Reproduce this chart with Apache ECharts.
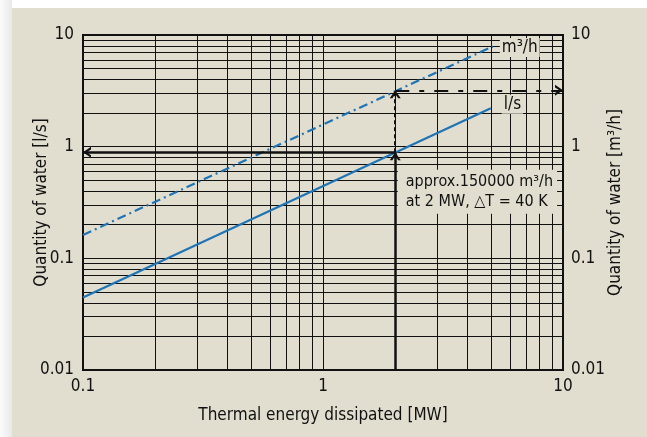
<!DOCTYPE html>
<html>
<head>
<meta charset="utf-8">
<script src="https://cdn.jsdelivr.net/npm/echarts@6/dist/echarts.min.js"></script>
<style>
html, body { margin: 0; padding: 0; background: #fff; }
#wrap { position: relative; width: 647px; height: 437px; overflow: hidden; }
#strip { position: absolute; left: 0; top: 0; width: 12px; height: 437px; background: linear-gradient(to right, #fbfbfb, #e9e9e9); }
#panel { position: absolute; left: 12px; top: 8px; right: 0; bottom: 0; background: #e1decf; }
#chart { position: absolute; left: 0; top: 0; width: 647px; height: 437px; }
</style>
</head>
<body>
<div id="wrap"><div id="strip"></div><div id="panel"></div><div id="chart"></div></div>
<script>
// axis decades and the minor steps inside each one
const xDecades = [0.1, 1]
const yDecades = [0.01, 0.1, 1]
const minorSteps = [2, 3, 4, 5, 6, 7, 8, 9]

// flow lines (MW -> quantity)
const powerLs = [0.1, 5.0]
const flowLs = [0.0445, 2.21]
const powerM3h = [0.1, 5.1]
const flowM3h = [0.162, 7.9]

// worked example
const examplePower = 2
const exampleLs = 0.89
const exampleM3h = 3.2

const BEIGE = '#e1decf'
const INK = '#111'
const BLUE = '#1f74b6'
const FONT = '"DejaVu Sans Condensed", "DejaVu Sans", sans-serif'

const chevron = 'path://M0,10 L5,0 L10,10 L7.6,10 L5,4.6 L2.4,10 Z'

const minorX = []
xDecades.forEach(d => minorSteps.forEach(m => minorX.push(d * m)))
const minorY = []
yDecades.forEach(d => minorSteps.forEach(m => minorY.push(d * m)))

const zip = (a, b) => a.map((v, i) => [v, b[i]])

const fmt = v => String(+v.toPrecision(3))

const tickLabel = { color: INK, fontSize: 17, fontFamily: FONT, margin: 9, formatter: fmt }
const nameStyle = { color: INK, fontSize: 17, fontFamily: FONT }

const myChart = echarts.init(document.getElementById('chart'))

const option = {
    animation: false,
    backgroundColor: 'transparent',
    grid: { left: 83, right: 84, top: 35, bottom: 67, show: true, borderColor: '#111', borderWidth: 2, backgroundColor: 'transparent' },
    xAxis: {
        type: 'log', logBase: 10, min: 0.1, max: 10,
        axisLine: { show: true, lineStyle: { color: '#111', width: 2 } },
        axisTick: { show: false },
        splitLine: { show: true, lineStyle: { color: '#111', width: 1 } },
        axisLabel: Object.assign({}, tickLabel, { margin: 8 }),
        name: 'Thermal energy dissipated [MW]',
        nameLocation: 'middle', nameGap: 37, nameMoveOverlap: false,
        nameTextStyle: nameStyle
    },
    yAxis: [{
        type: 'log', logBase: 10, min: 0.01, max: 10,
        axisLine: { show: true, lineStyle: { color: '#111', width: 2 } },
        axisTick: { show: false },
        splitLine: { show: true, lineStyle: { color: '#111', width: 1 } },
        axisLabel: tickLabel,
        name: 'Quantity of water [l/s]',
        nameLocation: 'middle', nameGap: 33, nameMoveOverlap: false,
        nameTextStyle: nameStyle
    }, {
        type: 'log', logBase: 10, min: 0.01, max: 10, position: 'right',
        axisLine: { show: true, lineStyle: { color: '#111', width: 2 } },
        axisTick: { show: false },
        splitLine: { show: false },
        axisLabel: Object.assign({}, tickLabel, { margin: 8 }),
        name: 'Quantity of water [m³/h]',
        nameLocation: 'middle', nameGap: 44, nameMoveOverlap: false,
        nameTextStyle: nameStyle
    }],
    series: [
        {
            // minor grid
            type: 'line', data: [[0.1, 0.01]], showSymbol: false, silent: true, z: 1,
            lineStyle: { opacity: 0 },
            markLine: {
                silent: true, z: 1, symbol: ['none', 'none'], label: { show: false },
                lineStyle: { color: '#111', width: 1, type: 'solid' },
                data: minorX.map(v => ({ xAxis: v })).concat(minorY.map(v => ({ yAxis: v })))
            }
        },
        {
            name: 'l/s', type: 'line', data: zip(powerLs, flowLs), showSymbol: false, z: 3,
            lineStyle: { color: BLUE, width: 2.2 },
            endLabel: {
                show: true, formatter: 'l/s', color: INK, fontSize: 17, fontFamily: FONT,
                backgroundColor: BEIGE, padding: [1, 2], offset: [3, -4]
            }
        },
        {
            name: 'm³/h', type: 'line', data: zip(powerM3h, flowM3h), showSymbol: false, z: 3,
            lineStyle: { color: BLUE, width: 2.2, type: [9, 4, 2, 4] },
            endLabel: {
                show: true, formatter: 'm³/h', color: INK, fontSize: 17, fontFamily: FONT,
                backgroundColor: BEIGE, padding: [1, 2], offset: [-1, 1]
            }
        },
        {
            // reading arrows
            type: 'line', data: [[0.1, 0.01]], showSymbol: false, silent: true, z: 4,
            lineStyle: { opacity: 0 },
            markLine: {
                silent: true, z: 6, symbol: ['none', chevron], symbolSize: [11, 8],
                symbolOffset: [[0, 0], [0, 4]],
                label: { show: false },
                lineStyle: { color: '#111', width: 2.5, type: 'solid' },
                data: [
                    [{ coord: [examplePower, 0.01] }, { coord: [examplePower, exampleLs] }],
                    [{ coord: [examplePower, exampleLs] }, { coord: [0.1, exampleLs] }],
                    [{ coord: [examplePower, exampleLs], lineStyle: { type: [4, 3], width: 2 } }, { coord: [examplePower, exampleM3h] }],
                    [{ coord: [examplePower, exampleM3h], lineStyle: { type: [14, 10, 5, 10], width: 2 } }, { coord: [10, exampleM3h] }]
                ]
            },
            markPoint: {
                silent: true, z: 7, symbol: 'circle', symbolSize: 1,
                itemStyle: { color: 'transparent' },
                data: [{ coord: [examplePower, exampleLs] }],
                label: {
                    show: true, position: [3, 18], align: 'left', verticalAlign: 'top',
                    formatter: 'approx.150000 m³/h\nat 2 MW, △T = 40 K',
                    color: INK, fontSize: 16, fontFamily: FONT, lineHeight: 20,
                    backgroundColor: BEIGE, padding: [2, 4, 2, 8]
                }
            }
        }
    ]
}

myChart.setOption(option)
</script>
</body>
</html>
